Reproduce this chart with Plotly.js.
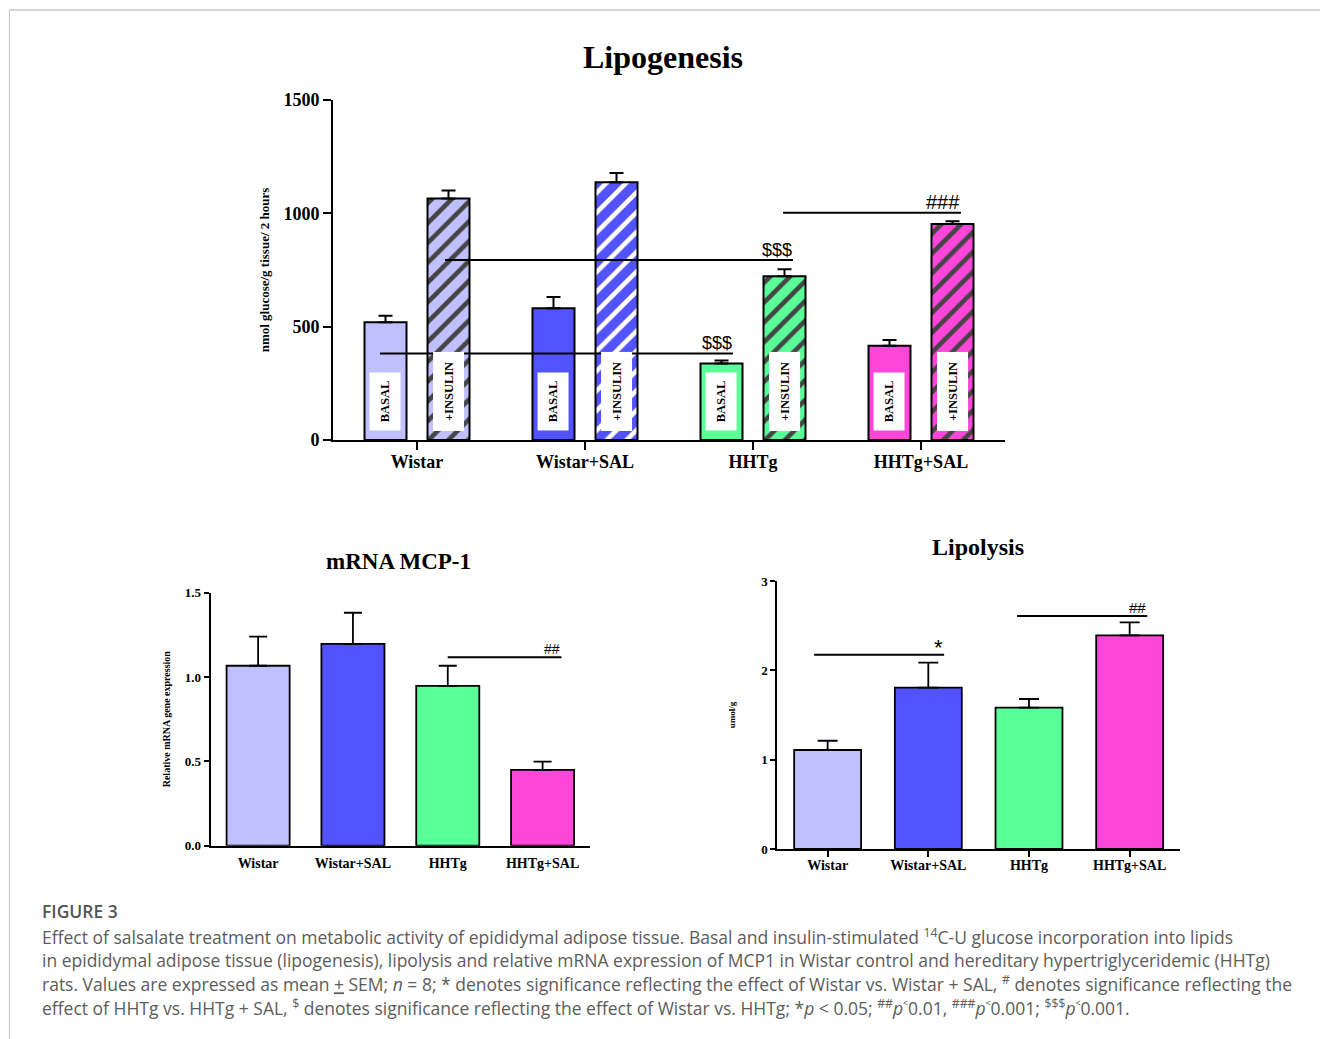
<!DOCTYPE html>
<html>
<head>
<meta charset="utf-8">
<script src="https://cdn.plot.ly/plotly-3.0.1.min.js"></script>
<style>
  html, body { margin: 0; padding: 0; background: #ffffff; }
  #chart { width: 1320px; height: 1039px; }
</style>
</head>
<body>
<div id="chart"></div>
<script>
// ---------------- DATA ----------------
const categories = ['Wistar', 'Wistar+SAL', 'HHTg', 'HHTg+SAL'];
const groupColors = ['#C0C0FF', '#5252FF', '#5AFF98', '#FF46DA'];

// Lipogenesis (nmol glucose/g tissue/2 hours)
const lipoBasal = [520, 581, 337, 416];
const lipoBasalSem = [28, 50, 14, 25];
const lipoInsulin = [1065, 1137, 722, 953];
const lipoInsulinSem = [36, 41, 31, 12];
const lipoYTicks = [0, 500, 1000, 1500];

// mRNA MCP-1 (relative expression)
const mcp1 = [1.067, 1.197, 0.948, 0.449];
const mcp1Sem = [0.172, 0.184, 0.119, 0.049];
const mcp1YTicks = [0, 0.5, 1.0, 1.5];
const mcp1YTickText = ['0.0', '0.5', '1.0', '1.5'];

// Lipolysis (umol/g)
const lipolysis = [1.108, 1.806, 1.582, 2.392];
const lipolysisSem = [0.104, 0.280, 0.097, 0.145];
const lipolysisYTicks = [0, 1, 2, 3];

// Significance brackets: from / to (category position), level, label
const lipoSigFrom = [-0.22, 0.167, 2.179];
const lipoSigTo = [1.881, 2.238, 3.238];
const lipoSigLevel = [382, 794, 1003];
const lipoSigLabel = ['$$$', '$$$', '###'];

const mcpSigFrom = [1.999];
const mcpSigTo = [3.199];
const mcpSigLevel = [1.117];
const mcpSigLabel = ['##'];

const lipolSigFrom = [-0.134, 1.881];
const lipolSigTo = [1.157, 3.175];
const lipolSigLevel = [2.175, 2.608];
const lipolSigLabel = ['*', '##'];

const inBarLabels = ['BASAL', '+INSULIN'];

// ---------------- STYLE ----------------
const SERIF = 'Liberation Serif, Times New Roman, serif';
const SANS = 'Liberation Sans, Arial, sans-serif';
const CAPFONT = 'Open Sans, Noto Sans, sans-serif';
const W = 1320, H = 1039;
const px = v => v / W;
const py = v => 1 - v / H;
const idx = categories.map((c, i) => i);
const OFF = 0.1875, BW = 0.25;

const traces = [];
traces.push({
  type: 'bar', name: 'BASAL', x: idx, y: lipoBasal, xaxis: 'x', yaxis: 'y',
  width: BW, offset: -OFF - BW / 2,
  marker: { color: groupColors, line: { color: '#000', width: 2 } },
  error_y: { type: 'data', array: lipoBasalSem, arrayminus: lipoBasal.map(() => 0), symmetric: false,
             color: '#000', thickness: 2, width: 7 },
  showlegend: false, hoverinfo: 'y'
});
traces.push({
  type: 'bar', name: '+INSULIN', x: idx, y: lipoInsulin, xaxis: 'x', yaxis: 'y',
  width: BW, offset: OFF - BW / 2,
  marker: { color: groupColors, line: { color: '#000', width: 2 },
            pattern: { shape: '/', fgcolor: '#000', fgopacity: 1, fillmode: 'overlay', size: 14, solidity: 0.33 } },
  error_y: { type: 'data', array: lipoInsulinSem, arrayminus: lipoInsulin.map(() => 0), symmetric: false,
             color: '#000', thickness: 2, width: 7 },
  showlegend: false, hoverinfo: 'y'
});
traces.push({
  type: 'bar', name: 'mRNA MCP-1', x: idx, y: mcp1, xaxis: 'x2', yaxis: 'y2',
  marker: { color: groupColors, line: { color: '#000', width: 1.8 } },
  error_y: { type: 'data', array: mcp1Sem, arrayminus: mcp1.map(() => 0), symmetric: false,
             color: '#000', thickness: 1.8, width: 9 },
  showlegend: false, hoverinfo: 'y'
});
traces.push({
  type: 'bar', name: 'Lipolysis', x: idx, y: lipolysis, xaxis: 'x3', yaxis: 'y3',
  marker: { color: groupColors, line: { color: '#000', width: 1.8 } },
  error_y: { type: 'data', array: lipolysisSem, arrayminus: lipolysis.map(() => 0), symmetric: false,
             color: '#000', thickness: 1.8, width: 10 },
  showlegend: false, hoverinfo: 'y'
});

const shapes = [];
const annotations = [];

function addSig(from, to, level, label, xr, yr, fsize, fam, yshift) {
  from.forEach((f, i) => {
    shapes.push({ type: 'line', xref: xr, yref: yr, x0: f, x1: to[i], y0: level[i], y1: level[i],
                  line: { color: '#000', width: 2 } });
    annotations.push({ xref: xr, yref: yr, x: to[i], y: level[i], text: label[i], showarrow: false,
                       xanchor: 'right', yanchor: 'bottom', yshift: yshift, borderpad: 0,
                       font: { family: fam, size: fsize, color: '#000' } });
  });
}
addSig(lipoSigFrom.slice(0, 2), lipoSigTo.slice(0, 2), lipoSigLevel.slice(0, 2), lipoSigLabel.slice(0, 2), 'x', 'y', 18, SANS, -1);
addSig(lipoSigFrom.slice(2), lipoSigTo.slice(2), lipoSigLevel.slice(2), lipoSigLabel.slice(2), 'x', 'y', 20, SANS, -1);
addSig(mcpSigFrom, mcpSigTo, mcpSigLevel, mcpSigLabel, 'x2', 'y2', 14, SANS, -1);
addSig(lipolSigFrom.slice(0, 1), lipolSigTo.slice(0, 1), lipolSigLevel.slice(0, 1), lipolSigLabel.slice(0, 1), 'x3', 'y3', 22, SANS, -6);
addSig(lipolSigFrom.slice(1), lipolSigTo.slice(1), lipolSigLevel.slice(1), lipolSigLabel.slice(1), 'x3', 'y3', 15, SANS, -1);

// In-bar white label boxes
idx.forEach(i => {
  annotations.push({ xref: 'x', yref: 'y', x: i - OFF, y: 170, text: '<b>' + inBarLabels[0] + '</b>',
    showarrow: false, textangle: -90, bgcolor: '#fff', width: 57, height: 30, borderpad: 0,
    font: { family: SERIF, size: 12.5, color: '#000' } });
  annotations.push({ xref: 'x', yref: 'y', x: i + OFF, y: 212, text: '<b>' + inBarLabels[1] + '</b>',
    showarrow: false, textangle: -90, bgcolor: '#fff', width: 78, height: 30, borderpad: 0,
    font: { family: SERIF, size: 12.5, color: '#000' } });
});

// Panel titles
annotations.push({ xref: 'paper', yref: 'paper', x: px(663), y: py(57), text: '<b>Lipogenesis</b>',
  showarrow: false, xanchor: 'center', yanchor: 'middle', font: { family: SERIF, size: 32, color: '#000' } });
annotations.push({ xref: 'paper', yref: 'paper', x: px(399), y: py(561), text: '<b>mRNA MCP-1</b>',
  showarrow: false, xanchor: 'center', yanchor: 'middle', font: { family: SERIF, size: 23, color: '#000' } });
annotations.push({ xref: 'paper', yref: 'paper', x: px(978), y: py(547), text: '<b>Lipolysis</b>',
  showarrow: false, xanchor: 'center', yanchor: 'middle', font: { family: SERIF, size: 24, color: '#000' } });

// Caption
const capLines = [
  'Effect of salsalate treatment on metabolic activity of epididymal adipose tissue. Basal and insulin-stimulated <sup>14</sup>C-U glucose incorporation into lipids',
  'in epididymal adipose tissue (lipogenesis), lipolysis and relative mRNA expression of MCP1 in Wistar control and hereditary hypertriglyceridemic (HHTg)',
  'rats. Values are expressed as mean <u>+</u> SEM; <i>n</i> = 8; * denotes significance reflecting the effect of Wistar vs. Wistar + SAL, <sup>#</sup> denotes significance reflecting the',
  'effect of HHTg vs. HHTg + SAL, <sup>$</sup> denotes significance reflecting the effect of Wistar vs. HHTg; *<i>p</i> &lt; 0.05; <sup>##</sup><i>p</i>˂0.01, <sup>###</sup><i>p</i>˂0.001; <sup>$$$</sup><i>p</i>˂0.001.'
];
const capY = [936, 960, 983, 1007];
annotations.push({ xref: 'paper', yref: 'paper', x: px(40), y: py(911), text: 'FIGURE 3',
  showarrow: false, xanchor: 'left', yanchor: 'middle', font: { family: CAPFONT, size: 17.5, color: '#555', weight: 600 } });
capLines.forEach((t, i) => {
  annotations.push({ xref: 'paper', yref: 'paper', x: px(40), y: py(capY[i]), text: t,
    showarrow: false, xanchor: 'left', yanchor: 'middle', align: 'left',
    font: { family: CAPFONT, size: 17.5, color: '#5c5c5c' } });
});

// Frame lines
shapes.push({ type: 'line', xref: 'paper', yref: 'paper', x0: px(9.5), x1: 1, y0: py(10), y1: py(10),
              line: { color: '#c8c8c8', width: 1.5 } });
shapes.push({ type: 'line', xref: 'paper', yref: 'paper', x0: px(9.5), x1: px(9.5), y0: py(10), y1: 0,
              line: { color: '#c8c8c8', width: 1.2 } });

const tickFont = size => ({ family: SERIF, size: size, color: '#000', weight: 'bold' });

const layout = {
  width: W, height: H,
  margin: { l: 0, r: 0, t: 0, b: 0 },
  paper_bgcolor: '#fff', plot_bgcolor: 'rgba(0,0,0,0)',
  barmode: 'overlay',
  bargap: 0.335,
  showlegend: false,
  xaxis: {
    domain: [px(333), px(1005)], anchor: 'y', range: [-0.5, 3.5],
    tickvals: idx, ticktext: categories, tickfont: tickFont(18), ticklabelstandoff: -4,
    showline: true, linecolor: '#000', linewidth: 2, ticks: 'outside', ticklen: 8, tickwidth: 2, tickcolor: '#000',
    showgrid: false, zeroline: false, fixedrange: true
  },
  yaxis: {
    domain: [py(440), py(100)], anchor: 'x', range: [0, 1500],
    tickvals: lipoYTicks, tickfont: tickFont(18),
    showline: true, linecolor: '#000', linewidth: 2, ticks: 'outside', ticklen: 8, tickwidth: 2, tickcolor: '#000',
    showgrid: false, zeroline: false, fixedrange: true,
    title: { text: '<b>nmol glucose/g tissue/ 2 hours</b>', font: { family: SERIF, size: 13, color: '#000' }, standoff: 11 }
  },
  xaxis2: {
    domain: [px(210.7), px(590)], anchor: 'y2', range: [-0.5, 3.5],
    tickvals: idx, ticktext: categories, tickfont: tickFont(14),
    showline: true, linecolor: '#000', linewidth: 2, ticks: 'outside', ticklen: 3, tickcolor: 'rgba(0,0,0,0)',
    showgrid: false, zeroline: false, fixedrange: true
  },
  yaxis2: {
    domain: [py(845.7), py(592.7)], anchor: 'x2', range: [0, 1.5],
    tickvals: mcp1YTicks, ticktext: mcp1YTickText, tickfont: tickFont(13),
    showline: true, linecolor: '#000', linewidth: 2, ticks: 'outside', ticklen: 5, tickwidth: 2, tickcolor: '#000',
    showgrid: false, zeroline: false, fixedrange: true,
    title: { text: '<b>Relative mRNA gene expression</b>', font: { family: SERIF, size: 10, color: '#000' }, standoff: 12 }
  },
  xaxis3: {
    domain: [px(777.3), px(1180)], anchor: 'y3', range: [-0.5, 3.5],
    tickvals: idx, ticktext: categories, tickfont: tickFont(14), ticklabelstandoff: -4,
    showline: true, linecolor: '#000', linewidth: 2, ticks: 'outside', ticklen: 6, tickwidth: 2, tickcolor: '#000',
    showgrid: false, zeroline: false, fixedrange: true
  },
  yaxis3: {
    domain: [py(849), py(581)], anchor: 'x3', range: [0, 3],
    tickvals: lipolysisYTicks, tickfont: tickFont(13),
    showline: true, linecolor: '#000', linewidth: 2, ticks: 'outside', ticklen: 5, tickwidth: 2, tickcolor: '#000',
    showgrid: false, zeroline: false, fixedrange: true,
    title: { text: '<b>umol/g</b>', font: { family: SERIF, size: 9, color: '#000' }, standoff: 24 }
  },
  shapes: shapes,
  annotations: annotations
};

Plotly.newPlot('chart', traces, layout, { displayModeBar: false, staticPlot: true });
</script>
</body>
</html>
